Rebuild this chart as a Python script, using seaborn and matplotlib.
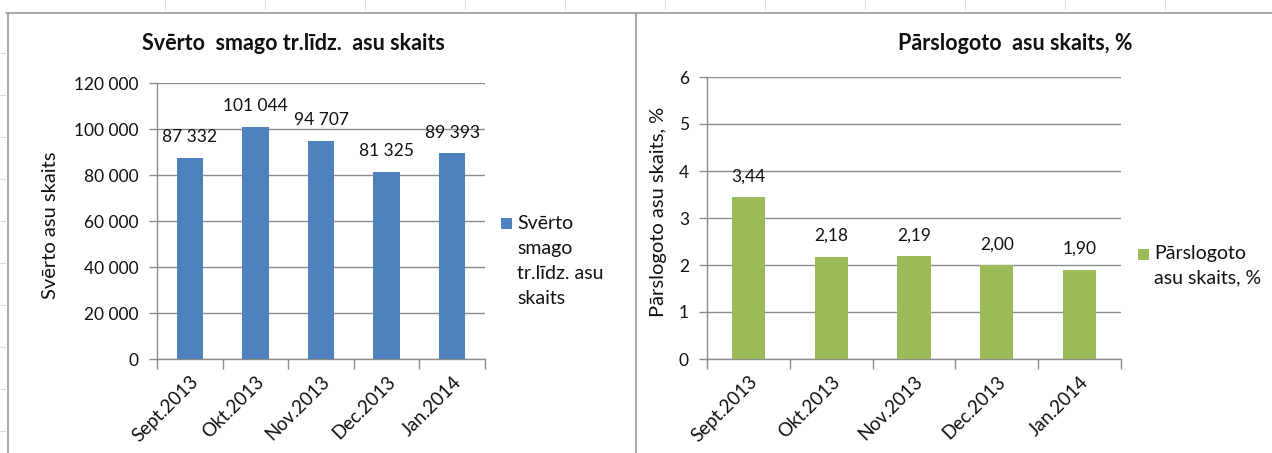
import matplotlib
matplotlib.use("Agg")
import matplotlib.pyplot as plt
from matplotlib.lines import Line2D
from matplotlib.patches import Rectangle
import seaborn as sns
import pandas as pd
import numpy as np

# Data
months = ["Sept.2013", "Okt.2013", "Nov.2013", "Dec.2013", "Jan.2014"]
axle_counts = [87332, 101044, 94707, 81325, 89393]
overload_pct = [3.44, 2.18, 2.19, 2.00, 1.90]

left_title = "Svērto  smago tr.līdz.  asu skaits"
left_ylabel = "Svērto asu skaits"
left_legend = ["Svērto", "smago", "tr.līdz. asu", "skaits"]
right_title = "Pārslogoto  asu skaits, %"
right_ylabel = "Pārslogoto asu skaits, %"
right_legend = ["Pārslogoto", "asu skaits, %"]

sns.set_theme(style="white")
plt.rcParams["font.family"] = ["Lato", "DejaVu Sans"]

BLUE = "#4F81BD"
GREEN = "#9BBB59"
GRID = "#8c8c8c"
TXT = "#111111"
FS_TICK = 12.5     # y tick labels and value labels
FS_X = 13.5        # rotated month labels
FS_YLAB = 14.5     # axis titles
FS_LEG = 14        # legend text
FS_TITLE = 15.5

W, H = 1272, 453
fig = plt.figure(figsize=(12.72, 4.53), dpi=100)

ax1 = fig.add_axes([157 / W, 1 - 359 / H, 328 / W, 276 / H])
ax2 = fig.add_axes([707 / W, 1 - 359 / H, 414 / W, 282 / H])

df1 = pd.DataFrame({"month": months, "value": axle_counts})
df2 = pd.DataFrame({"month": months, "value": overload_pct})

sns.barplot(data=df1, x="month", y="value", color=BLUE, width=0.4,
            saturation=1, linewidth=0, edgecolor="none", ax=ax1, zorder=3)
sns.barplot(data=df2, x="month", y="value", color=GREEN, width=0.4,
            saturation=1, linewidth=0, edgecolor="none", ax=ax2, zorder=3)


def thousands(v):
    return f"{int(round(v)):,}".replace(",", " ")


def decimal_comma(v):
    return f"{v:.2f}".replace(".", ",")


def style_axis(ax, ymax, step, fmt):
    ax.set_xlim(-0.5, 4.5)
    ax.set_ylim(0, ymax)
    ticks = np.arange(0, ymax + step / 2, step)
    ax.set_yticks(ticks)
    ax.set_yticklabels([fmt(t) for t in ticks], fontsize=FS_TICK, color=TXT)
    ax.yaxis.grid(True, color=GRID, linewidth=1.0, zorder=0)
    ax.xaxis.grid(False)
    for side in ["top", "right"]:
        ax.spines[side].set_visible(False)
    for side in ["left", "bottom"]:
        ax.spines[side].set_color(GRID)
        ax.spines[side].set_linewidth(1.0)
    ax.tick_params(axis="y", which="major", length=6, color=GRID, width=1,
                   left=True, pad=7)
    ax.set_xticks(np.arange(len(months)))
    ax.set_xticklabels(months, rotation=45, ha="right",
                       rotation_mode="anchor", fontsize=FS_X, color=TXT)
    ax.tick_params(axis="x", which="major", length=0, pad=10)
    ax.set_xticks(np.arange(-0.5, len(months)), minor=True)
    ax.tick_params(axis="x", which="minor", length=7, color=GRID, width=1,
                   bottom=True)
    ax.set_xlabel("")


style_axis(ax1, 120000, 20000, thousands)
style_axis(ax2, 6, 1, lambda t: f"{int(t)}")

# value labels above bars
for i, v in enumerate(axle_counts):
    ax1.annotate(thousands(v), (i, v), xytext=(0, 15), textcoords="offset points",
                 ha="center", va="center", fontsize=FS_TICK, color=TXT, zorder=5)
for i, v in enumerate(overload_pct):
    ax2.annotate(decimal_comma(v), (i, v), xytext=(0, 15), textcoords="offset points",
                 ha="center", va="center", fontsize=FS_TICK, color=TXT, zorder=5)

ax1.set_ylabel(left_ylabel, fontsize=FS_YLAB, color=TXT)
ax2.set_ylabel(right_ylabel, fontsize=FS_YLAB, color=TXT)
ax1.yaxis.set_label_coords(-0.30, 0.484)
ax2.yaxis.set_label_coords(-0.097, 0.523)

fig.text(293 / W, 1 - 44 / H, left_title, ha="center", va="center",
         fontsize=FS_TITLE, fontweight="bold", color=TXT)
fig.text(1015 / W, 1 - 44 / H, right_title, ha="center", va="center",
         fontsize=FS_TITLE, fontweight="bold", color=TXT)


# legends: colour key next to the first line of a wrapped series name
def key(x, y, color, lines, step=25):
    fig.add_artist(Rectangle((x / W, 1 - (y + 6) / H), 11 / W, 11 / H,
                             facecolor=color, edgecolor="none",
                             transform=fig.transFigure))
    for k, line in enumerate(lines):
        fig.text((x + 16) / W, 1 - (y + k * step) / H, line, ha="left",
                 va="center", fontsize=FS_LEG, color=TXT)


key(501, 223, BLUE, left_legend, step=25.3)
key(1138, 254, GREEN, right_legend, step=24)

# panel borders
BORDER = "#9a9a9a"


def fline(x0, y0, x1, y1, lw=1.2, color=BORDER):
    fig.add_artist(Line2D([x0 / W, x1 / W], [1 - y0 / H, 1 - y1 / H],
                          color=color, linewidth=lw, transform=fig.transFigure))


fline(6, 13, W, 13)
fline(8, 13, 8, H)
fline(636, 13, 636, H)
# faint cell ticks along the top and left edges
for x in [165, 265, 365, 465, 565, 665, 765, 865, 965, 1065, 1165]:
    fline(x, 0, x, 9, lw=0.6, color="#cfcfcf")
for y in [53, 95, 137, 179, 221, 263, 305, 347, 389, 431]:
    fline(0, y, 5, y, lw=0.6, color="#cfcfcf")

fig.savefig("out.png", dpi=100, facecolor="white")
